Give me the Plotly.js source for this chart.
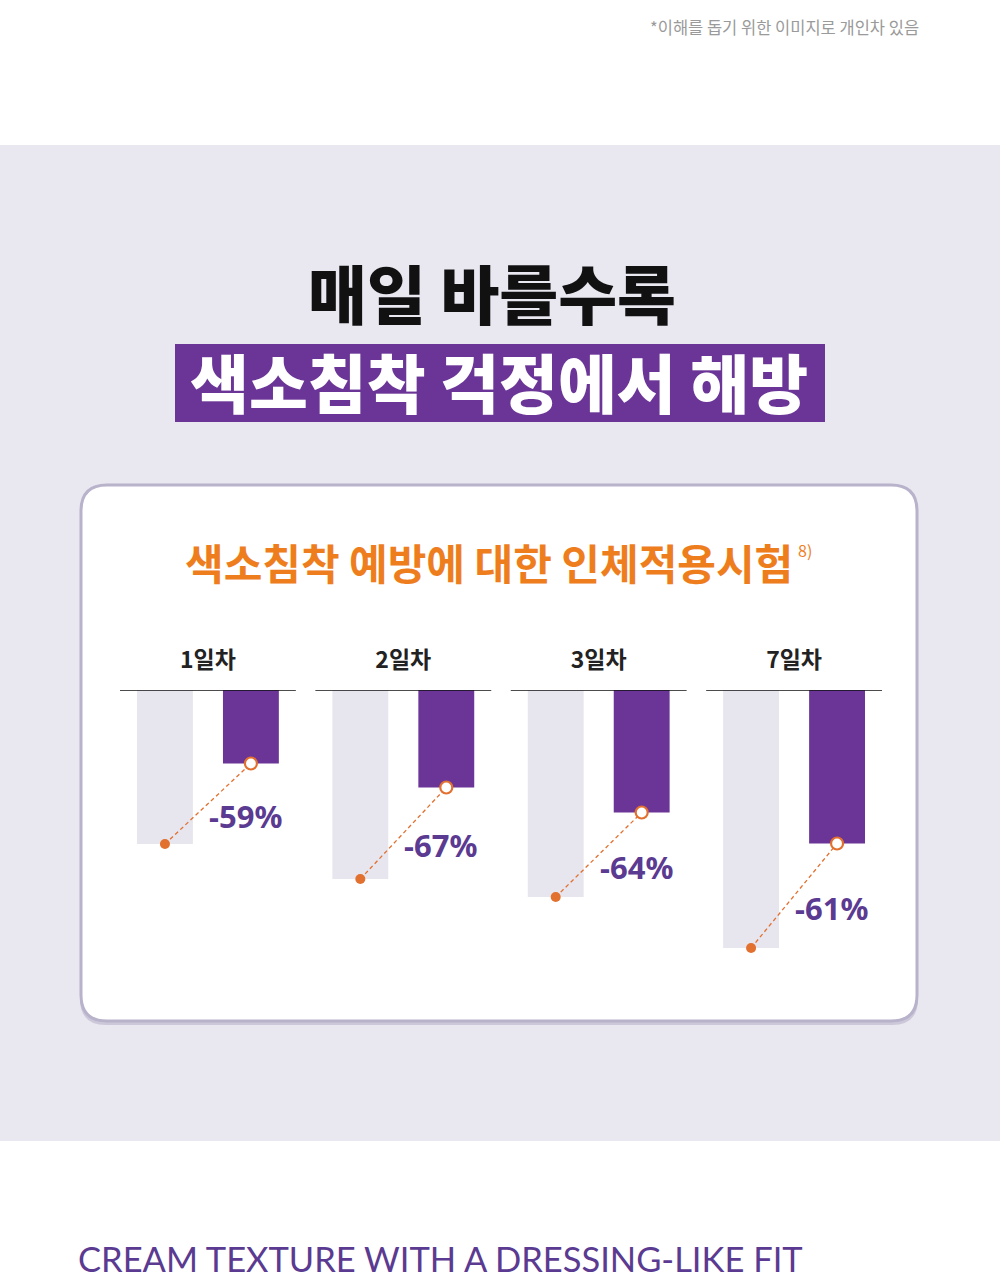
<!DOCTYPE html>
<html>
<head>
<meta charset="utf-8">
<script src="https://cdn.plot.ly/plotly-3.0.1.min.js"></script>
<style>
html,body{margin:0;padding:0;background:#fff;}
#chart{width:1000px;height:1280px;}
</style>
</head>
<body>
<div id="chart"></div>
<script>
// ---- data ----
const days = ["1일차", "2일차", "3일차", "7일차"];
const controlValues = [154, 189, 207, 258];     // gray bars (untreated)
const treatedValues = [73.5, 97.5, 122.5, 153.5]; // purple bars (treated)
const changeLabels = ["-59%", "-67%", "-64%", "-61%"];

// ---- page text ----
const noteText = "*이해를 돕기 위한 이미지로 개인차 있음";
const titleLine1 = "매일 바를수록";
const titleLine2 = "색소침착 걱정에서 해방";
const cardTitle = "색소침착 예방에 대한 인체적용시험";
const cardTitleSup = "8)";
const footerText = "CREAM TEXTURE WITH A DRESSING-LIKE FIT";

const W = 1000, H = 1280;
const X = px => px / W;
const Y = py => 1 - py / H;

const KR = '"Noto Sans CJK KR", "Noto Sans", sans-serif';
const GRAY = '#e7e5ed';
const PURPLE = '#6a3596';
const ORANGE = '#e2702f';

const idx = days.map((d, i) => i);
const off = 0.22;
const barW = 0.286;

const traces = [];
traces.push({
  type: 'bar', x: idx.map(i => i - off), y: controlValues, width: barW,
  marker: {color: GRAY}, hoverinfo: 'skip', name: 'control'
});
traces.push({
  type: 'bar', x: idx.map(i => i + off), y: treatedValues, width: barW,
  marker: {color: PURPLE}, hoverinfo: 'skip', name: 'treated'
});
idx.forEach(i => {
  traces.push({
    type: 'scatter', mode: 'lines',
    x: [i - off, i + off], y: [controlValues[i], treatedValues[i]],
    line: {color: ORANGE, width: 1.3, dash: '4px,3px'},
    hoverinfo: 'skip', cliponaxis: false
  });
});
traces.push({
  type: 'scatter', mode: 'markers', x: idx.map(i => i - off), y: controlValues,
  marker: {color: ORANGE, size: 10}, cliponaxis: false, hoverinfo: 'skip'
});
traces.push({
  type: 'scatter', mode: 'markers', x: idx.map(i => i + off), y: treatedValues,
  marker: {color: '#ffffff', size: 12, line: {color: ORANGE, width: 2.2}},
  cliponaxis: false, hoverinfo: 'skip'
});

// rounded rectangle path in paper coords
function roundRectPaper(x0, y0, x1, y1, r) {
  const rx = r / W, ry = r / H;
  const L = X(x0), R = X(x1), T = Y(y0), B = Y(y1);
  return `M ${L + rx} ${T} L ${R - rx} ${T} Q ${R} ${T} ${R} ${T - ry} L ${R} ${B + ry} Q ${R} ${B} ${R - rx} ${B} L ${L + rx} ${B} Q ${L} ${B} ${L} ${B + ry} L ${L} ${T - ry} Q ${L} ${T} ${L + rx} ${T} Z`;
}

const shapes = [
  {type: 'rect', xref: 'paper', yref: 'paper', x0: 0, x1: 1, y0: Y(1141), y1: Y(145),
   fillcolor: '#e9e7ef', line: {width: 0}, layer: 'below'},
  {type: 'rect', xref: 'paper', yref: 'paper', x0: X(175), x1: X(825), y0: Y(422), y1: Y(344),
   fillcolor: PURPLE, line: {width: 0}, layer: 'below'},
  {type: 'path', xref: 'paper', yref: 'paper', path: roundRectPaper(80, 488, 918, 1025, 26),
   fillcolor: '#cdc8d9', line: {width: 0}, layer: 'below'},
  {type: 'path', xref: 'paper', yref: 'paper', path: roundRectPaper(81, 485, 917, 1021, 26),
   fillcolor: '#ffffff', line: {color: '#b9b2cb', width: 3}, layer: 'below'},
];
idx.forEach(i => {
  shapes.push({type: 'line', xref: 'x', yref: 'y', x0: i - 0.45, x1: i + 0.45, y0: 0, y1: 0,
    line: {color: '#111', width: 1.5}, layer: 'above'});
});

const annotations = [
  {xref: 'paper', yref: 'paper', x: X(921), y: Y(27), xanchor: 'right', yanchor: 'middle',
   text: noteText, showarrow: false, font: {family: KR, size: 16.5, color: '#9a9a9a'}},
  {xref: 'paper', yref: 'paper', x: X(492), y: Y(291), xanchor: 'center', yanchor: 'middle',
   text: titleLine1, showarrow: false, font: {family: KR, size: 64, color: '#111', weight: 900}},
  {xref: 'paper', yref: 'paper', x: X(499), y: Y(380), xanchor: 'center', yanchor: 'middle',
   text: titleLine2, showarrow: false, font: {family: KR, size: 64, color: '#ffffff', weight: 900}},
  {xref: 'paper', yref: 'paper', x: X(795), y: Y(561), xanchor: 'right', yanchor: 'middle',
   text: cardTitle, showarrow: false, font: {family: KR, size: 42, color: '#ee7e1d', weight: 700}},
  {xref: 'paper', yref: 'paper', x: X(796), y: Y(550), xanchor: 'left', yanchor: 'middle',
   text: cardTitleSup, showarrow: false, font: {family: KR, size: 16, color: '#ee7e1d'}},
  {xref: 'paper', yref: 'paper', x: X(76), y: Y(1281), xanchor: 'left', yanchor: 'bottom',
   text: footerText, showarrow: false, font: {family: 'Lato, "Open Sans", sans-serif', size: 34.5, color: '#5b3a91', weight: 400}},
];
idx.forEach(i => {
  annotations.push({xref: 'x', yref: 'y', x: i, y: (controlValues[i] + treatedValues[i]) / 2,
    xanchor: 'left', yanchor: 'middle', yshift: -12, xshift: -1,
    text: changeLabels[i], showarrow: false,
    font: {family: '"Noto Sans", sans-serif', size: 31, color: '#5b3a91', weight: 700}});
});

const layout = {
  width: W, height: H,
  margin: {l: 0, r: 0, t: 0, b: 0},
  paper_bgcolor: '#ffffff', plot_bgcolor: 'rgba(0,0,0,0)',
  showlegend: false,
  barmode: 'overlay',
  xaxis: {domain: [X(120), X(882)], range: [-0.45, 3.45], side: 'top',
    tickvals: idx, ticktext: days, ticks: 'outside', ticklen: 12, tickcolor: 'rgba(0,0,0,0)',
    tickfont: {family: KR, size: 23, color: '#222', weight: 700},
    showgrid: false, zeroline: false, showline: false, fixedrange: true},
  yaxis: {domain: [Y(960), Y(690)], range: [270, 0], visible: false, fixedrange: true},
  shapes: shapes,
  annotations: annotations
};

Plotly.newPlot('chart', traces, layout, {displayModeBar: false, staticPlot: true});
</script>
</body>
</html>
